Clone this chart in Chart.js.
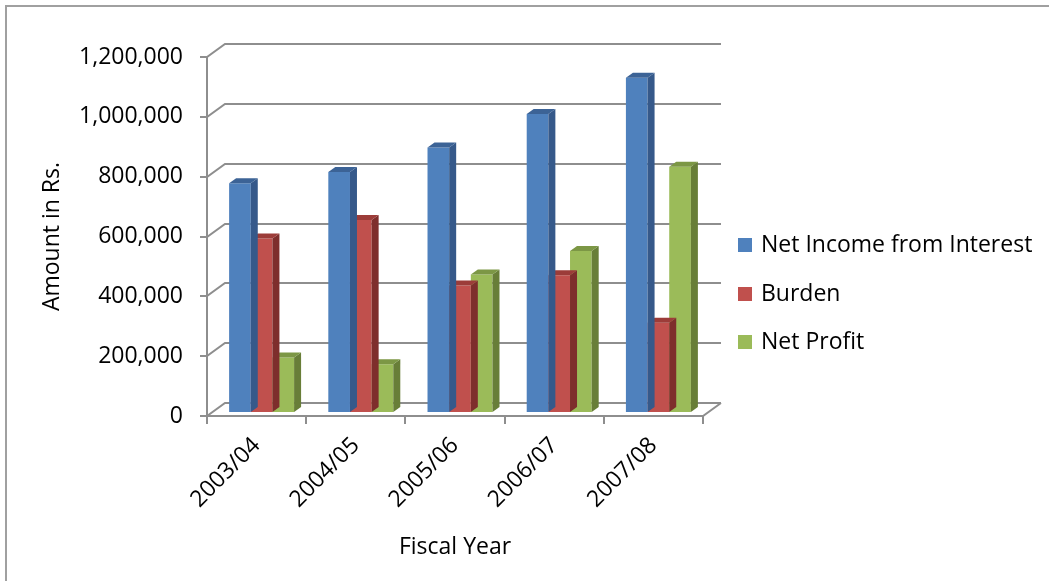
<!DOCTYPE html>
<html>
<head>
<meta charset="utf-8">
<script src="https://cdn.jsdelivr.net/npm/chart.js@4.4.1/dist/chart.umd.min.js"></script>
<style>
    html, body { margin: 0; padding: 0; background: #fff; }
    #wrap { width: 1049px; height: 581px; position: relative; }
</style>
</head>
<body>
<div id="wrap"><canvas id="myChart"></canvas></div>
<script>
var years = ['2003/04', '2004/05', '2005/06', '2006/07', '2007/08'];
var netIncome = [765000, 802000, 884000, 996000, 1117000];
var burden = [580000, 642000, 423000, 457000, 298000];
var netProfit = [182000, 160000, 460000, 538000, 820000];
var yTicks = [0, 200000, 400000, 600000, 800000, 1000000, 1200000];

var seriesNames = ['Net Income from Interest', 'Burden', 'Net Profit'];
var fronts = ['#4F81BD', '#C0504D', '#9BBB59'];
var sides = ['#36598a', '#7e2e2c', '#687e38'];
var tops = ['#3c6396', '#9c3c39', '#7c9745'];

var FONT = { family: 'Open Sans', size: 23 };
var GRID = '#8e8e8e';
var WALL_DX = 18, WALL_DY = -13;   // back wall offset
var BAR_DX = 5, BAR_DY = -4;       // bars sit a bit behind the front plane
var SIDE_DX = 7, SIDE_DY = -5;     // bar depth

var box3d = {
    id: 'box3d',
    beforeDraw: function (chart) {
        var ctx = chart.ctx;
        ctx.save();
        ctx.fillStyle = '#fff';
        ctx.fillRect(0, 0, chart.width, chart.height);
        // outer frame (only top and left edges show)
        ctx.strokeStyle = '#a0a0a0';
        ctx.lineWidth = 2;
        ctx.beginPath();
        ctx.moveTo(6, chart.height + 5);
        ctx.lineTo(6, 6);
        ctx.lineTo(chart.width + 5, 6);
        ctx.stroke();
        ctx.restore();
    },
    beforeDatasetsDraw: function (chart) {
        var ctx = chart.ctx;
        var xs = chart.scales.x, ys = chart.scales.y;
        var L = xs.left, R = xs.right, B = ys.getPixelForValue(0);
        ctx.save();
        ctx.strokeStyle = GRID;
        ctx.lineWidth = 2;
        ctx.beginPath();
        yTicks.forEach(function (v) {
            var y = Math.round(ys.getPixelForValue(v));
            ctx.moveTo(L - 7, y);
            ctx.lineTo(L, y);
            ctx.lineTo(L + WALL_DX, y + WALL_DY);
            ctx.lineTo(R + WALL_DX, y + WALL_DY);
        });
        // front value axis
        ctx.moveTo(L, Math.round(ys.getPixelForValue(1200000)));
        ctx.lineTo(L, B);
        // floor front edge and right edge
        ctx.moveTo(L, B);
        ctx.lineTo(R, B);
        ctx.lineTo(R + WALL_DX, B + WALL_DY);
        // category boundary ticks
        var w = (R - L) / years.length;
        for (var i = 0; i <= years.length; i++) {
            var x = Math.round(L + i * w);
            ctx.moveTo(x, B);
            ctx.lineTo(x, B + 8);
        }
        ctx.stroke();
        ctx.restore();

        // legend on the right
        ctx.save();
        ctx.font = FONT.size + 'px ' + FONT.family;
        ctx.textBaseline = 'middle';
        ctx.fillStyle = '#000';
        var legendY = [245, 294, 342];
        chart.data.datasets.forEach(function (ds, i) {
            ctx.fillStyle = ds.backgroundColor;
            ctx.fillRect(738, legendY[i] - 7, 14, 14);
            ctx.fillStyle = '#000';
            ctx.fillText(ds.label, 761, legendY[i]);
        });
        ctx.restore();

        chart.ctx.save();
        chart.ctx.translate(BAR_DX, BAR_DY);
    },
    afterDatasetDraw: function (chart, args) {
        var ctx = chart.ctx;
        var i = args.index;
        var meta = chart.getDatasetMeta(i);
        meta.data.forEach(function (bar) {
            var p = bar.getProps(['x', 'y', 'base', 'width'], true);
            var xl = p.x - p.width / 2, xr = p.x + p.width / 2;
            ctx.fillStyle = sides[i];
            ctx.beginPath();
            ctx.moveTo(xr, p.y);
            ctx.lineTo(xr + SIDE_DX, p.y + SIDE_DY);
            ctx.lineTo(xr + SIDE_DX, p.base + SIDE_DY);
            ctx.lineTo(xr, p.base);
            ctx.closePath();
            ctx.fill();
            ctx.fillStyle = tops[i];
            ctx.beginPath();
            ctx.moveTo(xl, p.y);
            ctx.lineTo(xr, p.y);
            ctx.lineTo(xr + SIDE_DX, p.y + SIDE_DY);
            ctx.lineTo(xl + SIDE_DX, p.y + SIDE_DY);
            ctx.closePath();
            ctx.fill();
        });
    },
    afterDatasetsDraw: function (chart) {
        chart.ctx.restore();
    }
};

new Chart('myChart', {
    type: 'bar',
    data: {
        labels: years,
        datasets: [
            { label: seriesNames[0], data: netIncome, backgroundColor: fronts[0] },
            { label: seriesNames[1], data: burden, backgroundColor: fronts[1] },
            { label: seriesNames[2], data: netProfit, backgroundColor: fronts[2] }
        ]
    },
    options: {
        responsive: true,
        maintainAspectRatio: false,
        animation: false,
        datasets: {
            bar: { barPercentage: 1, categoryPercentage: 0.655 }
        },
        layout: { padding: { top: 57, right: 346, bottom: 0, left: 0 } },
        plugins: {
            legend: { display: false },
            tooltip: { enabled: false }
        },
        scales: {
            x: {
                grid: { display: false, drawTicks: false },
                border: { display: false },
                ticks: { font: FONT, color: '#000', minRotation: 45, maxRotation: 45, padding: 16 },
                title: { display: true, text: 'Fiscal Year', font: FONT, color: '#000', padding: { top: 0, bottom: 20 } },
                afterFit: function (s) { s.height = 165; }
            },
            y: {
                min: 0,
                max: 1200000,
                grid: { display: false, drawTicks: false },
                border: { display: false },
                ticks: {
                    stepSize: 200000,
                    font: FONT,
                    color: '#000',
                    padding: 24,
                    callback: function (v) { return v.toLocaleString('en-US'); }
                },
                title: { display: true, text: 'Amount in Rs.', font: FONT, color: '#000', padding: { top: 39, bottom: 0 } },
                afterFit: function (s) { s.width = 207; }
            }
        }
    },
    plugins: [box3d]
});
</script>
</body>
</html>
